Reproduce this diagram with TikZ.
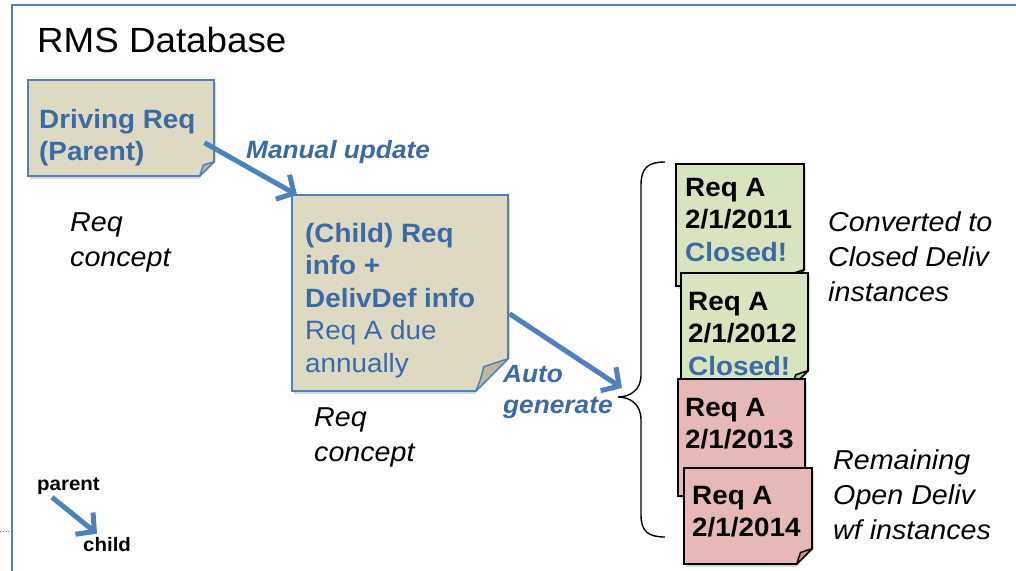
\documentclass[tikz,border=0pt]{standalone}
\usepackage{fontspec}
\setmainfont{Liberation Sans}[FakeStretch=1.05]
\usetikzlibrary{arrows.meta,shadows}

\definecolor{frameblue}{HTML}{4F81BD}
\definecolor{notetext}{HTML}{3C6AA5}
\definecolor{tanfill}{HTML}{DDD9C3}
\definecolor{tanflap}{HTML}{BFB89A}
\definecolor{greenfill}{HTML}{D7E4BD}
\definecolor{greenflap}{HTML}{B3C493}
\definecolor{pinkfill}{HTML}{E6B9B8}
\definecolor{pinkflap}{HTML}{C99695}

% dog-ear at the lower right corner of a note: node, size, flap colour, edge colour
\newcommand\pagefold[4]{%
  \fill[white] ([xshift=-#2]#1.south east) -- ([yshift=#2]#1.south east)
    -- ([xshift=6pt,yshift=#2]#1.south east) -- ([xshift=6pt,yshift=-6pt]#1.south east)
    -- ([xshift=-#2,yshift=-6pt]#1.south east) -- cycle;
  \filldraw[fill=#3,draw=#4,line width=1.5pt,line join=round]
    ([xshift=-#2]#1.south east)
    .. controls ([xshift=-0.85*#2,yshift=0.35*#2]#1.south east)
    .. ([xshift=-0.75*#2,yshift=0.75*#2]#1.south east)
    -- ([yshift=#2]#1.south east) -- cycle;
}

\tikzset{
  note/.style={draw, line width=1.5pt, anchor=north west, inner sep=0pt,
    drop shadow={shadow xshift=2.5pt, shadow yshift=-3pt, opacity=0.3}},
  tannote/.style={note, fill=tanfill, draw=frameblue},
  greennote/.style={note, fill=greenfill, draw=black},
  pinknote/.style={note, fill=pinkfill, draw=black},
  notetxt/.style={anchor=north west, inner sep=0pt, align=left,
    font=\fontsize{26.5}{32.5}\selectfont\bfseries},
  lbl/.style={anchor=north west, inner sep=0pt, align=left,
    font=\fontsize{27.3}{35}\selectfont\itshape},
  flow/.style={inner sep=0pt, align=left, text=notetext,
    font=\fontsize{25}{31}\selectfont\bfseries\itshape},
  tiny/.style={inner sep=0pt, anchor=base west,
    font=\fontsize{19.5}{23}\selectfont\bfseries},
  arr/.style={draw=frameblue, line width=5pt,
    -{Straight Barb[length=13pt,width=28pt]}},
}

\begin{document}
\begin{tikzpicture}[x=1pt,y=-1pt]
\useasboundingbox (0,0) rectangle (1016,570);
\fill[white] (0,0) rectangle (1016,570);

% database frame
\draw[frameblue, line width=2.2pt] (12,580) -- (12,5) -- (1030,5);
\draw[frameblue, dotted, line width=0.8pt] (0,531) -- (10,531);
\node[anchor=base west, inner sep=0pt, font=\fontsize{35}{40}\selectfont] (title) at (37,52) {RMS Database};

% driving requirement
\node[tannote, minimum width=186pt, minimum height=96pt] (drv) at (27,79) {};
\pagefold{drv}{15pt}{tanflap}{frameblue}
\node[notetxt, text=notetext] (drvt) at (39,109) {Driving Req\\(Parent)};

% child requirement
\node[tannote, minimum width=216pt, minimum height=196pt] (child) at (291,194) {};
\pagefold{child}{33pt}{tanflap}{frameblue}
\node[notetxt, text=notetext] (childt) at (305,223)
  {(Child) Req\\info +\\DelivDef info\\\mdseries Req A due\\\mdseries annually};

% labels
\node[lbl] (rc1) at (70,213) {Req\\concept};
\node[lbl] (rc2) at (314,408) {Req\\concept};
\node[flow, anchor=base west] (manual) at (246,158) {Manual update};
\node[flow, anchor=north west] (auto) at (503,365) {Auto\\generate};

% brace around the generated instances
\coordinate (btip) at (618,397);
\coordinate (autoend) at (622,388);
\draw[line width=1.4pt] (665,162) .. controls (648,162) and (641,168) .. (641,185)
  -- (641,375) .. controls (641,390) and (630,397) .. (btip)
  .. controls (630,397) and (641,404) .. (641,420)
  -- (641,515) .. controls (641,531) and (648,537) .. (665,537);

% flow arrows
\draw[arr] ([xshift=-10pt,yshift=-15pt]drv.east) -- ([xshift=6pt,yshift=-1pt]child.north west);
\draw[arr] ([xshift=1pt,yshift=-21pt]child.east) -- (autoend);

% generated instances
\node[greennote, minimum width=128pt, minimum height=122pt] (g1) at (675,163) {};
\pagefold{g1}{17pt}{greenflap}{black}
\node[notetxt] (g1t) at (685,178) {Req A\\2/1/2011\\\color{notetext}Closed!};

\node[greennote, minimum width=127pt, minimum height=114pt] (g2) at (680,272) {};
\pagefold{g2}{17pt}{greenflap}{black}
\node[notetxt] (g2t) at (688,292) {Req A\\2/1/2012\\\color{notetext}Closed!};

\node[pinknote, minimum width=127pt, minimum height=117pt] (p3) at (677,378) {};
\pagefold{p3}{17pt}{pinkflap}{black}
\node[notetxt] (p3t) at (685,398) {Req A\\2/1/2013};

\node[pinknote, minimum width=128pt, minimum height=96pt] (p4) at (683,467) {};
\pagefold{p4}{16pt}{pinkflap}{black}
\node[notetxt] (p4t) at (692,486) {Req A\\2/1/2014};

\node[lbl] (closedlbl) at (828,212) {Converted to\\Closed Deliv\\instances};
\node[lbl] (openlbl) at (833,450) {Remaining\\Open Deliv\\wf instances};

% legend
\node[tiny] (lp) at (37,490) {parent};
\node[tiny] (lc) at (83,551) {child};
\draw[arr] ([xshift=15pt,yshift=-3pt]lp.south west) -- ([xshift=14pt,yshift=3pt]lc.north west);
\end{tikzpicture}
\end{document}
